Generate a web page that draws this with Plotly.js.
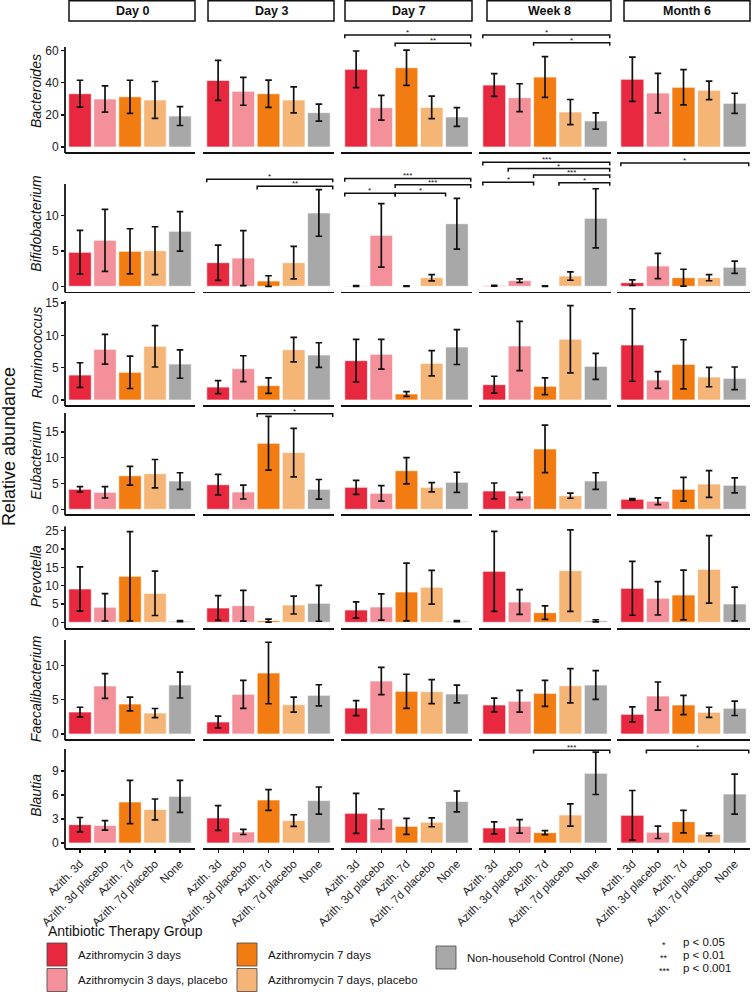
<!DOCTYPE html>
<html><head><meta charset="utf-8">
<script src="https://cdn.plot.ly/plotly-3.0.1.min.js"></script>
<style>html,body{margin:0;padding:0;background:#fff}#chart{width:752px;height:992px}</style>
</head><body><div id="chart"></div>
<script>
// ---------------- DATA ----------------
const groups = ["Azith. 3d", "Azith. 3d placebo", "Azith. 7d", "Azith. 7d placebo", "None"];
const groupLegend = ["Azithromycin 3 days", "Azithromycin 3 days, placebo", "Azithromycin 7 days", "Azithromycin 7 days, placebo", "Non-household Control (None)"];
const timepoints = ["Day 0", "Day 3", "Day 7", "Week 8", "Month 6"];
const genera = ["Bacteroides", "Bifidobacterium", "Ruminococcus", "Eubacterium", "Prevotella", "Faecalibacterium", "Blautia"];

// mean relative abundance: [timepoint][group]
const bacteroidesMean = [[33.2,29.9,31.3,29.3,19.3],[41.5,34.7,33.2,29.3,21.4],[48.4,24.5,49.4,24.7,18.7],[38.6,30.7,43.6,21.8,16.2],[42.2,33.6,37.2,35.3,27.2]];
const bacteroidesErr  = [[8.4,8.2,10.3,11.5,5.9],[12.5,8.7,8.5,8.1,5.3],[11.4,7.7,11,7,5.8],[7.1,8.7,12.7,7.8,5.1],[13.8,12.3,11,5.8,6.3]];
const bifidoMean = [[4.82,6.52,4.96,5.05,7.8],[3.35,4.0,0.75,3.35,10.4],[0.05,7.23,0.02,1.22,8.88],[0.08,0.8,0.02,1.46,9.64],[0.51,2.88,1.22,1.22,2.7]];
const bifidoErr  = [[3.1,4.4,3.2,3.4,2.8],[2.5,3.9,0.75,2.3,3.3],[0.05,4.5,0.03,0.45,3.6],[0.05,0.26,0.03,0.6,4.2],[0.4,1.8,1.2,0.43,0.87]];
const ruminoMean = [[3.86,7.83,4.28,8.3,5.56],[2.0,4.84,2.22,7.78,6.95],[6.08,7.06,0.93,5.67,8.19],[2.37,8.35,2.12,9.38,5.2],[8.5,3.09,5.51,3.55,3.35]];
const ruminoErr  = [[1.9,2.3,2.5,3.2,2.2],[1.0,2.0,1.2,1.9,1.9],[3.3,2.3,0.36,1.95,2.7],[1.3,3.8,1.3,5.2,2.0],[5.6,1.3,3.8,1.5,1.75]];
const eubactMean = [[3.88,3.29,6.5,6.9,5.48],[4.77,3.35,12.8,11.0,3.88],[4.26,3.1,7.48,4.26,5.23],[3.55,2.58,11.7,2.64,5.48],[1.94,1.55,3.88,4.9,4.65]];
const eubactErr  = [[0.5,1.1,1.8,2.75,1.6],[2.0,1.35,5.2,4.7,1.9],[1.35,1.5,2.55,0.9,1.95],[1.55,0.7,4.6,0.5,1.6],[0.15,0.65,2.3,2.6,1.45]];
const prevoMean = [[9.09,4.1,12.55,7.9,0.3],[3.9,4.54,0.45,4.72,5.18],[3.36,4.18,8.27,9.55,0.3],[13.9,5.54,2.63,14.1,0.4],[9.27,6.54,7.45,14.45,5.0]];
const prevoErr  = [[6.05,3.75,12.2,6.05,0.15],[3.4,4.2,0.4,2.45,4.9],[2.2,3.6,7.9,4.6,0.15],[10.9,3.4,1.85,11.1,0.3],[7.35,4.55,6.8,9.2,4.6]];
const faecaMean = [[3.22,7.03,4.39,3.07,7.17],[1.76,5.81,8.93,4.29,5.66],[3.8,7.76,6.25,6.2,5.86],[4.25,4.79,5.95,7.07,7.17],[2.88,5.56,4.25,3.17,3.76]];
const faecaErr  = [[0.7,1.8,1.0,0.66,1.9],[0.85,2.05,4.5,1.1,1.55],[1.1,2.0,2.5,1.75,1.3],[1.0,1.6,1.9,2.5,2.1],[1.1,2.05,1.4,0.75,1.05]];
const blautiaMean = [[2.29,2.2,5.13,4.2,5.83],[3.13,1.38,5.38,2.8,5.3],[3.71,3.0,2.08,2.58,5.2],[1.88,2.08,1.29,3.5,8.71],[3.46,1.33,2.67,1.08,6.12]];
const blautiaErr  = [[0.9,0.6,2.7,1.3,2.0],[1.55,0.32,1.3,0.73,1.7],[2.5,1.25,1.0,0.55,1.3],[0.75,0.85,0.25,1.4,2.65],[3.1,0.77,1.4,0.15,2.5]];

const yTicks = [[0,20,40,60],[0,5,10],[0,5,10,15],[0,5,10,15],[0,5,10,15,20,25],[0,5,10],[0,3,6,9]];

// significance comparisons: genus row, timepoint col, group1, group2, label, bracket height (data units)
const sigRow   = [0,0,0,0, 1,1, 1,1,1,1, 1,1,1,1,1, 1, 3, 6,6];
const sigCol   = [2,2,3,3, 1,1, 2,2,2,2, 3,3,3,3,3, 4, 1, 3,4];
const sigG1    = [0,2,0,2, 0,2, 0,2,2,0, 0,1,2,0,3, 0, 2, 2,1];
const sigG2    = [4,4,4,4, 4,4, 4,4,3,1, 4,4,4,1,4, 4, 4, 4,4];
const sigLabel = ["*","**","*","*", "*","**", "***","***","*","*", "***","*","***","*","*", "*", "*", "***","*"];
const sigY     = [69.8,64.6,69.8,65, 15.2,14.2, 15.3,14.4,13.2,13.2, 17.6,16.7,15.8,14.75,14.7, 17.5, 18.5, 11.6,11.6];

const sigLegendStars = ["*", "**", "***"];
const sigLegendText = ["p < 0.05", "p < 0.01", "p < 0.001"];

// ---------------- STYLE / GEOMETRY ----------------
const colors = ["#E8283F", "#F3909A", "#F37C12", "#F5B577", "#A8A8A8"];
const W = 752, H = 992;
const FONT = "Liberation Sans, Arial, sans-serif";
const colPx = [[65,195],[203,334],[341,472],[479,611],[617,750]];
const headPx = [[69,195],[208,334],[345,472],[487,611],[624,750]];
// T: domain top, A: y-axis line top, Z: zero pixel, k: px per unit, B: axis line (bottom)
const rowGeom = [
  {T:30,  A:47,    Z:147,   k:1.605, B:152},
  {T:156, A:184,   Z:286.3, k:7.05,  B:291.5},
  {T:300, A:301,   Z:400,   k:6.47,  B:405},
  {T:407, A:413,   Z:509.3, k:5.16,  B:514.3},
  {T:525, A:526.5, Z:622.3, k:3.664, B:627.7},
  {T:639, A:640,   Z:734,   k:6.83,  B:739.3},
  {T:744, A:749,   Z:843,   k:8.0,   B:847.7}
];
const means = [bacteroidesMean, bifidoMean, ruminoMean, eubactMean, prevoMean, faecaMean, blautiaMean];
const errs  = [bacteroidesErr, bifidoErr, ruminoErr, eubactErr, prevoErr, faecaErr, blautiaErr];

const px = v => v / W;
const py = v => 1 - v / H;

const data = [];
const layout = {
  width: W, height: H, margin: {l:0, r:0, t:0, b:0},
  paper_bgcolor: "#fff", plot_bgcolor: "#fff",
  showlegend: false, bargap: 0.1,
  font: {family: FONT, color: "#222"},
  shapes: [], annotations: []
};

const idxs = [0,1,2,3,4];
for (let r = 0; r < genera.length; r++) {
  const g = rowGeom[r];
  const yr = [(g.Z - g.B) / g.k, (g.Z - g.T) / g.k];
  for (let c = 0; c < timepoints.length; c++) {
    const n = r * timepoints.length + c + 1;
    const xn = n === 1 ? "x" : "x" + n, yn = n === 1 ? "y" : "y" + n;
    const xk = n === 1 ? "xaxis" : "xaxis" + n, yk = n === 1 ? "yaxis" : "yaxis" + n;
    const m = means[r][c], e = errs[r][c];
    data.push({
      type: "bar", x: idxs, y: m, xaxis: xn, yaxis: yn, width: 0.9,
      marker: {color: colors, line: {color: "rgba(255,255,255,0.65)", width: 1}},
      error_y: {type: "data", symmetric: false, array: e, arrayminus: e.map((v, i) => Math.min(v, m[i])),
                color: "#111", thickness: 1.7, width: 3.3},
      hoverinfo: "skip", showlegend: false
    });
    const bottom = r === genera.length - 1;
    layout[xk] = {
      domain: [px(colPx[c][0]), px(colPx[c][1])], anchor: yn, range: [-0.6, 4.6],
      showline: true, linecolor: "#111", linewidth: 1.8, showgrid: false, zeroline: false,
      tickvals: idxs, ticktext: groups, showticklabels: bottom, ticks: bottom ? "outside" : "",
      ticklen: 3, tickwidth: 1.2, tickcolor: "#111", tickangle: -45,
      tickfont: {size: 11.5, family: FONT, color: "#222"}, automargin: false, fixedrange: true
    };
    layout[yk] = {
      domain: [py(g.B), py(g.T)], anchor: xn, range: yr,
      showline: false, showgrid: false, zeroline: false,
      tickvals: yTicks[r], showticklabels: c === 0, ticks: c === 0 ? "outside" : "",
      ticklen: 3, tickwidth: 1.2, tickcolor: "#111",
      tickfont: {size: 12, family: FONT, color: "#222"}, automargin: false, fixedrange: true
    };
  }
  // y axis line for first column
  layout.shapes.push({type: "line", xref: "paper", yref: "paper",
    x0: px(colPx[0][0]), x1: px(colPx[0][0]), y0: py(g.B + 0.9), y1: py(g.A),
    line: {color: "#111", width: 1.8}});
  // genus title
  layout.annotations.push({xref: "paper", yref: "paper", x: px(36), y: py((g.T + g.B) / 2),
    text: "<i>" + genera[r] + "</i>", textangle: -90, showarrow: false,
    font: {size: 14, family: FONT, color: "#111"}, xanchor: "center", yanchor: "middle"});
}

// significance brackets
for (let i = 0; i < sigLabel.length; i++) {
  const r = sigRow[i], c = sigCol[i];
  const n = r * timepoints.length + c + 1;
  const xn = n === 1 ? "x" : "x" + n, yn = n === 1 ? "y" : "y" + n;
  const d = 3.2 / rowGeom[r].k;
  const x0 = sigG1[i] - 0.45, x1 = sigG2[i] + 0.55, y = sigY[i];
  data.push({type: "scatter", mode: "lines", x: [x0, x0, x1, x1], y: [y - d, y, y, y - d],
    xaxis: xn, yaxis: yn, line: {color: "#111", width: 1.5}, hoverinfo: "skip", showlegend: false});
  layout.annotations.push({xref: xn, yref: yn, x: (x0 + x1) / 2, y: y, text: sigLabel[i],
    showarrow: false, yanchor: "bottom", yshift: -4, font: {size: 8, family: FONT, color: "#111"}});
}

// column headers
for (let c = 0; c < timepoints.length; c++) {
  layout.shapes.push({type: "rect", xref: "paper", yref: "paper",
    x0: px(headPx[c][0]), x1: px(headPx[c][1]), y0: py(21), y1: py(0.8),
    line: {color: "#111", width: 1.5}, fillcolor: "#fff"});
  layout.annotations.push({xref: "paper", yref: "paper", x: px((headPx[c][0] + headPx[c][1]) / 2), y: py(11),
    text: "<b>" + timepoints[c] + "</b>", showarrow: false, xanchor: "center", yanchor: "middle",
    font: {size: 12.5, family: FONT, color: "#111"}});
}

// global y title
layout.annotations.push({xref: "paper", yref: "paper", x: px(9), y: py(447), text: "Relative abundance",
  textangle: -90, showarrow: false, xanchor: "center", yanchor: "middle", font: {size: 18, family: FONT, color: "#111"}});

// legend
layout.annotations.push({xref: "paper", yref: "paper", x: px(46), y: py(931), text: "Antibiotic Therapy Group",
  showarrow: false, xanchor: "left", yanchor: "middle", font: {size: 14, family: FONT, color: "#111"}});
const keyPos = [[47,943],[47,968.5],[237,943],[237,968.5],[436,946]];
for (let i = 0; i < groupLegend.length; i++) {
  const [kx, ky] = keyPos[i];
  layout.shapes.push({type: "rect", xref: "paper", yref: "paper", x0: px(kx), x1: px(kx + 20), y0: py(ky + 23), y1: py(ky),
    line: {color: "#444", width: 0.8}, fillcolor: colors[i]});
  layout.annotations.push({xref: "paper", yref: "paper", x: px(kx + 29), y: py(ky + 11.5), text: groupLegend[i],
    showarrow: false, xanchor: "left", yanchor: "middle", font: {size: 11.5, family: FONT, color: "#111"}});
}
for (let i = 0; i < sigLegendStars.length; i++) {
  const yy = 942 + i * 12.8;
  layout.annotations.push({xref: "paper", yref: "paper", x: px(664), y: py(yy + 3), text: sigLegendStars[i],
    showarrow: false, xanchor: "center", yanchor: "middle", font: {size: 9, family: FONT, color: "#111"}});
  layout.annotations.push({xref: "paper", yref: "paper", x: px(681), y: py(yy), text: sigLegendText[i],
    showarrow: false, xanchor: "left", yanchor: "middle", font: {size: 11.5, family: FONT, color: "#111"}});
}

Plotly.newPlot("chart", data, layout, {staticPlot: true, displayModeBar: false});
</script>
</body></html>
